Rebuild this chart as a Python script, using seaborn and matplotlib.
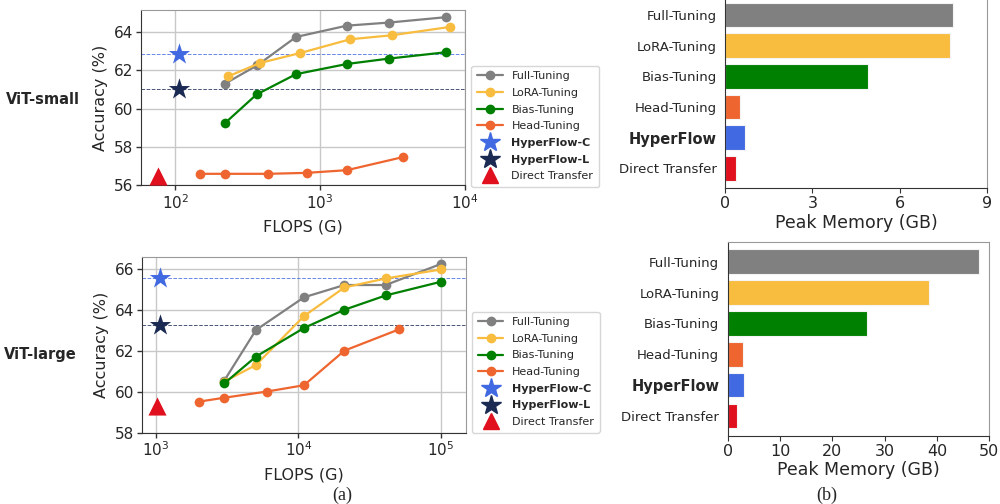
import numpy as np
import pandas as pd
import matplotlib
matplotlib.use("Agg")
import matplotlib.pyplot as plt
from matplotlib.lines import Line2D
import seaborn as sns

# ---------------- data ----------------
methods = ["Full-Tuning", "LoRA-Tuning", "Bias-Tuning", "Head-Tuning"]

# ViT-small
s_full_x = [220, 368, 682, 1530, 2975, 7345]
s_full_y = [61.30, 62.26, 63.74, 64.33, 64.49, 64.77]
s_lora_x = [231, 384, 727, 1614, 3140, 7830]
s_lora_y = [61.68, 62.38, 62.90, 63.62, 63.83, 64.26]
s_bias_x = [220, 364, 682, 1530, 2975, 7345]
s_bias_y = [59.24, 60.74, 61.80, 62.33, 62.61, 62.94]
s_head_x = [147, 220, 436, 808, 1530, 3718]
s_head_y = [56.60, 56.60, 56.60, 56.65, 56.79, 57.47]
s_hfc = (105.5, 62.84)
s_hfl = (105.5, 61.01)
s_direct = (75.5, 56.51)

# ViT-large
l_full_x = [3017, 5030, 10930, 20990, 40900, 100000]
l_full_y = [60.55, 63.02, 64.62, 65.22, 65.22, 66.25]
l_lora_x = [3017, 5030, 10930, 20990, 40900, 100000]
l_lora_y = [60.50, 61.31, 63.70, 65.10, 65.54, 65.98]
l_bias_x = [3017, 5030, 10930, 20990, 40900, 100000]
l_bias_y = [60.41, 61.72, 63.12, 64.01, 64.71, 65.38]
l_head_x = [2014, 3017, 5980, 10930, 20990, 50700]
l_head_y = [59.52, 59.71, 60.01, 60.32, 62.01, 63.05]
l_hfc = (1067, 65.58)
l_hfl = (1067, 63.25)
l_direct = (1022, 59.32)

bar_cats = ["Full-Tuning", "LoRA-Tuning", "Bias-Tuning", "Head-Tuning", "HyperFlow", "Direct Transfer"]
mem_small = [7.85, 7.74, 4.92, 0.52, 0.69, 0.37]
mem_large = [48.0, 38.5, 26.6, 2.93, 3.06, 1.72]

# ---------------- style ----------------
colors = {"Full-Tuning": "#808080", "LoRA-Tuning": "#F8BC3E", "Bias-Tuning": "#008000",
          "Head-Tuning": "#EE652F", "HyperFlow": "#4169E1", "HyperFlow-C": "#4169E1",
          "HyperFlow-L": "#1B2A52", "Direct Transfer": "#E0101E"}

sns.set_style("ticks")
plt.rcParams['font.family'] = ['DejaVu Sans']

fig = plt.figure(figsize=(10, 5.04), dpi=100)
ax_s = fig.add_axes([0.141, 0.6323, 0.324, 0.348])
ax_l = fig.add_axes([0.1417, 0.1415, 0.324, 0.349])
ax_bs = fig.add_axes([0.7253, 0.6265, 0.2614, 0.3835])
ax_bl = fig.add_axes([0.7277, 0.1349, 0.2616, 0.3855])


def line_panel(ax, series, hfc, hfl, direct, xlim, ylim, yticks, legend_anchor):
    for name, (xs, ys) in zip(methods, series):
        df = pd.DataFrame({"x": xs, "y": ys})
        sns.lineplot(data=df, x="x", y="y", ax=ax, color=colors[name], marker="o",
                     markersize=7, linewidth=1.6, markeredgewidth=0, sort=False, zorder=3)
    ax.set_xscale("log")
    ax.axhline(hfc[1], color=colors["HyperFlow-C"], linestyle="--", linewidth=0.7, alpha=0.8, zorder=2)
    ax.axhline(hfl[1], color=colors["HyperFlow-L"], linestyle="--", linewidth=0.7, alpha=0.8, zorder=2)
    sns.scatterplot(x=[hfc[0]], y=[hfc[1]], ax=ax, marker="*", s=260, color=colors["HyperFlow-C"],
                    linewidth=0, zorder=4)
    sns.scatterplot(x=[hfl[0]], y=[hfl[1]], ax=ax, marker="*", s=260, color=colors["HyperFlow-L"],
                    linewidth=0, zorder=4)
    sns.scatterplot(x=[direct[0]], y=[direct[1]], ax=ax, marker="^", s=170, color=colors["Direct Transfer"],
                    linewidth=0, zorder=4)
    ax.set_xlim(*xlim)
    ax.set_ylim(*ylim)
    ax.set_yticks(yticks)
    ax.minorticks_off()
    ax.xaxis.set_minor_locator(matplotlib.ticker.NullLocator())
    ax.grid(True, color="#c8c8c8", linewidth=1.0, zorder=0)
    ax.set_axisbelow(True)
    ax.set_xlabel("FLOPS (G)", fontsize=11.5, labelpad=6)
    ax.set_ylabel("Accuracy (%)", fontsize=11.5, labelpad=4)
    ax.tick_params(labelsize=11, length=3.5, width=1, color="#333333", pad=2)
    for side in ["left", "bottom"]:
        ax.spines[side].set_color("#333333")
    for side in ["top", "right"]:
        ax.spines[side].set_color("#999999")
    handles = [Line2D([], [], color=colors[m], marker="o", markersize=6, linewidth=1.6) for m in methods]
    handles += [Line2D([], [], color=colors["HyperFlow-C"], marker="*", markersize=15, linestyle="none"),
                Line2D([], [], color=colors["HyperFlow-L"], marker="*", markersize=15, linestyle="none"),
                Line2D([], [], color=colors["Direct Transfer"], marker="^", markersize=11, linestyle="none")]
    labels = methods + ["HyperFlow-C", "HyperFlow-L", "Direct Transfer"]
    leg = ax.legend(handles, labels, loc="lower left", bbox_to_anchor=legend_anchor, borderaxespad=0,
                    fontsize=8, frameon=True, handlelength=2.3, labelspacing=0.6,
                    borderpad=0.5, handletextpad=0.8, fancybox=True)
    leg.get_frame().set_edgecolor("#cccccc")
    for t in leg.get_texts()[4:6]:
        t.set_fontweight("bold")


line_panel(ax_s, [(s_full_x, s_full_y), (s_lora_x, s_lora_y), (s_bias_x, s_bias_y), (s_head_x, s_head_y)],
           s_hfc, s_hfl, s_direct, (58, 10000), (56, 65.15), [56, 58, 60, 62, 64], (1.02, -0.008))
line_panel(ax_l, [(l_full_x, l_full_y), (l_lora_x, l_lora_y), (l_bias_x, l_bias_y), (l_head_x, l_head_y)],
           l_hfc, l_hfl, l_direct, (794, 149000), (58, 66.6), [58, 60, 62, 64, 66], (1.02, 0.0))


def bar_panel(ax, vals, xlim, xticks):
    df = pd.DataFrame({"cat": bar_cats, "val": vals})
    sns.barplot(data=df, y="cat", x="val", hue="cat", palette=[colors[c] for c in bar_cats],
                ax=ax, orient="h", width=0.8, saturation=1, edgecolor="#f4f4f4", linewidth=0.8,
                legend=False)
    ax.set_xlim(*xlim)
    ax.set_xticks(xticks)
    ax.set_ylim(5.65, -0.65)
    ax.set_ylabel("")
    ax.set_xlabel("Peak Memory (GB)", fontsize=12.5, labelpad=2)
    ax.tick_params(axis="x", labelsize=11.5, length=3.5, color="#333333", pad=2)
    ax.tick_params(axis="y", labelsize=9.5, length=0, pad=6)
    for t in ax.get_yticklabels():
        if t.get_text() == "HyperFlow":
            t.set_fontweight("bold")
            t.set_fontsize(10.5)
    for side in ["left", "bottom"]:
        ax.spines[side].set_color("#333333")
    for side in ["top", "right"]:
        ax.spines[side].set_color("#999999")


bar_panel(ax_bs, mem_small, (0, 9), [0, 3, 6, 9])
bar_panel(ax_bl, mem_large, (0, 50), [0, 10, 20, 30, 40, 50])

fig.text(0.0425, 1 - 100 / 504, "ViT-small", fontsize=10.5, fontweight="bold", ha="center", va="center")
fig.text(0.040, 1 - 354 / 504, "ViT-large", fontsize=10.5, fontweight="bold", ha="center", va="center")
fig.text(0.342, 1 - 495 / 504, "(a)", fontsize=13, family="Liberation Serif", ha="center", va="center")
fig.text(0.827, 1 - 495 / 504, "(b)", fontsize=13, family="Liberation Serif", ha="center", va="center")

fig.savefig("out.png", dpi=100)
